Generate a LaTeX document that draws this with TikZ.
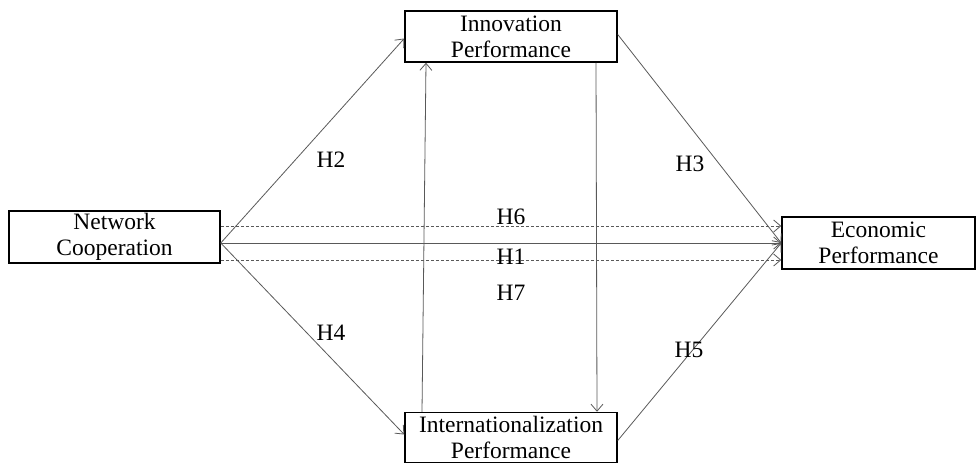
\documentclass[tikz,border=0pt]{standalone}
\usepackage{fontspec}
\setmainfont{Liberation Serif}
\usetikzlibrary{arrows.meta}
\begin{document}
\begin{tikzpicture}[x=1pt,y=-1pt,
  box/.style={draw=black, line width=1.5pt, fill=white, align=center, inner sep=0pt,
    font=\fontsize{23.5}{26}\selectfont},
  conn/.style={draw=black!65, line width=0.8pt, -{Straight Barb[length=7pt,width=12pt,line width=0.8pt]}},
  dconn/.style={conn, dash pattern=on 3pt off 2pt},
  lab/.style={font=\fontsize{23.5}{26}\selectfont, inner sep=0pt}]
\useasboundingbox (0,0) rectangle (980,464);
\node[box, minimum width=211pt, minimum height=52pt] (nc) at (114.5,237) {Network\\Cooperation};
\node[box, minimum width=212pt, minimum height=51pt] (ip) at (511,36.5) {Innovation\\Performance};
\node[box, minimum width=212pt, minimum height=50pt] (tp) at (511,437.5) {Internationalization\\Performance};
\node[box, minimum width=193pt, minimum height=52pt] (ep) at (878.5,243) {Economic\\Performance};
\coordinate (o) at ([yshift=-6pt]nc.east);
\draw[conn] (o) -- ([yshift=-2pt]ip.west);
\draw[conn] (o) -- ([yshift=3pt]tp.west);
\draw[conn] (o) -- (ep.west);
\draw[dconn] ([yshift=11pt]nc.east) -- ([yshift=17pt]ep.west);
\draw[dconn] ([yshift=-23pt]nc.east) -- ([yshift=-17pt]ep.west);
\draw[conn] ([yshift=2pt]ip.east) -- (ep.west);
\draw[conn] ([yshift=-3pt]tp.east) -- (ep.west);
\draw[conn] ([xshift=-89pt]tp.north) -- ([xshift=-85pt]ip.south);
\draw[conn] ([xshift=85pt]ip.south) -- ([xshift=86pt]tp.north);
\node[lab] (h2) at (331,160) {H2};
\node[lab] (h3) at (690,164) {H3};
\node[lab] (h6) at (511,217) {H6};
\node[lab] (h1) at (511,257) {H1};
\node[lab] (h7) at (511,293) {H7};
\node[lab] (h4) at (331,333) {H4};
\node[lab] (h5) at (689,350) {H5};
\end{tikzpicture}
\end{document}
